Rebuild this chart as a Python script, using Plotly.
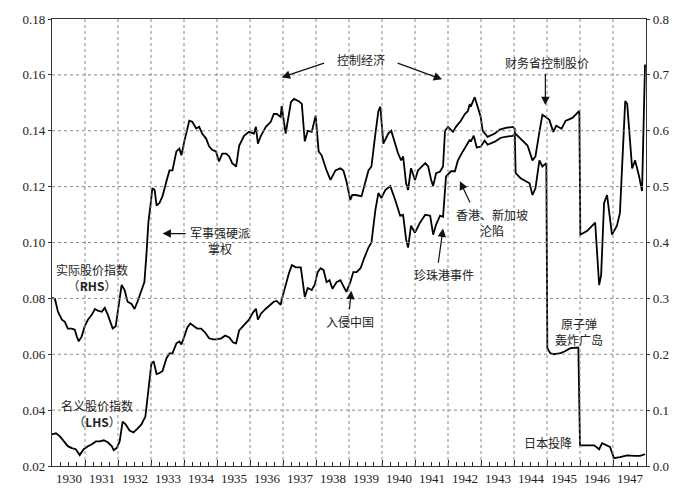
import plotly.graph_objects as go

# ---- data ----
year_labels = [str(y) for y in range(1930, 1948)]
year_bounds = list(range(1930, 1949))
left_ticks = [0.02, 0.04, 0.06, 0.08, 0.10, 0.12, 0.14, 0.16, 0.18]

# nominal stock price index (LHS)
nom_years = [1930.00, 1930.12, 1930.24, 1930.36, 1930.48, 1930.60, 1930.72, 1930.84, 1930.96, 1931.09,
             1931.21, 1931.33, 1931.45, 1931.57, 1931.69, 1931.81, 1931.87, 1931.96, 1932.05, 1932.14,
             1932.23, 1932.35, 1932.47, 1932.59, 1932.71, 1932.83, 1932.89, 1932.95, 1933.01, 1933.08,
             1933.17, 1933.26, 1933.35, 1933.47, 1933.56, 1933.65, 1933.77, 1933.86, 1933.92, 1934.01,
             1934.10, 1934.19, 1934.28, 1934.40, 1934.52, 1934.64, 1934.76, 1934.88, 1935.00, 1935.13,
             1935.25, 1935.37, 1935.49, 1935.58, 1935.67, 1935.82, 1935.97, 1936.09, 1936.18, 1936.24,
             1936.33, 1936.48, 1936.63, 1936.72, 1936.81, 1936.93, 1936.96, 1937.08, 1937.18, 1937.27,
             1937.39, 1937.54, 1937.66, 1937.75, 1937.87, 1937.96, 1938.05, 1938.14, 1938.23, 1938.32,
             1938.41, 1938.50, 1938.62, 1938.74, 1938.83, 1938.92, 1939.04, 1939.13, 1939.23, 1939.35,
             1939.47, 1939.59, 1939.68, 1939.80, 1939.89, 1939.98, 1940.10, 1940.25, 1940.40, 1940.55,
             1940.64, 1940.73, 1940.79, 1940.88, 1941.00, 1941.15, 1941.31, 1941.46, 1941.55, 1941.64,
             1941.76, 1941.85, 1941.94, 1942.09, 1942.21, 1942.30, 1942.45, 1942.54, 1942.66, 1942.69,
             1942.78, 1942.87, 1942.99, 1943.11, 1943.20, 1943.42, 1943.60, 1943.78, 1943.96, 1944.05,
             1944.20, 1944.41, 1944.56, 1944.65, 1944.77, 1944.86, 1944.95, 1945.07, 1945.19, 1945.28,
             1945.44, 1945.56, 1945.77, 1945.98, 1946.01, 1946.22, 1946.46, 1946.52, 1946.58, 1946.64,
             1946.73, 1946.82, 1946.97, 1947.12, 1947.21, 1947.37, 1947.43, 1947.58, 1947.67, 1947.79,
             1947.88, 1947.97]
nom_vals = [0.0313, 0.0317, 0.0306, 0.0288, 0.0271, 0.0264, 0.0260, 0.0239, 0.0260, 0.0271,
            0.0278, 0.0288, 0.0288, 0.0292, 0.0285, 0.0271, 0.0257, 0.0264, 0.0288, 0.0359,
            0.0349, 0.0327, 0.0320, 0.0334, 0.0349, 0.0377, 0.0441, 0.0511, 0.0565, 0.0575,
            0.0529, 0.0533, 0.0540, 0.0586, 0.0603, 0.0603, 0.0639, 0.0646, 0.0635, 0.0664,
            0.0696, 0.0710, 0.0703, 0.0692, 0.0692, 0.0678, 0.0657, 0.0653, 0.0653, 0.0657,
            0.0667, 0.0660, 0.0642, 0.0639, 0.0685, 0.0706, 0.0724, 0.0749, 0.0763, 0.0724,
            0.0745, 0.0763, 0.0777, 0.0788, 0.0791, 0.0777, 0.0795, 0.0848, 0.0890, 0.0919,
            0.0911, 0.0911, 0.0805, 0.0837, 0.0830, 0.0848, 0.0894, 0.0908, 0.0901, 0.0858,
            0.0865, 0.0834, 0.0858, 0.0865, 0.0844, 0.0823, 0.0858, 0.0894, 0.0894, 0.0908,
            0.0947, 0.0982, 0.1000, 0.1117, 0.1177, 0.1159, 0.1188, 0.1202, 0.1152, 0.1096,
            0.1099, 0.1011, 0.0982, 0.1060, 0.1035, 0.1071, 0.1099, 0.1096, 0.1028, 0.1064,
            0.1096, 0.1092, 0.1237, 0.1255, 0.1255, 0.1294, 0.1326, 0.1343, 0.1368, 0.1361,
            0.1382, 0.1340, 0.1343, 0.1365, 0.1350, 0.1361, 0.1375, 0.1379, 0.1382, 0.1389,
            0.1372, 0.1347, 0.1294, 0.1308, 0.1396, 0.1457, 0.1450, 0.1439, 0.1396, 0.1418,
            0.1407, 0.1435, 0.1446, 0.1471, 0.1028, 0.1042, 0.1071, 0.0975, 0.0848, 0.0883,
            0.1142, 0.1170, 0.1028, 0.1060, 0.1106, 0.1506, 0.1496, 0.1265, 0.1294, 0.1237,
            0.1184, 0.1637]

# real stock price index (RHS)
real_years = [1930.00, 1930.09, 1930.18, 1930.30, 1930.39, 1930.48, 1930.60, 1930.69, 1930.75, 1930.81,
              1930.90, 1930.99, 1931.09, 1931.21, 1931.30, 1931.39, 1931.51, 1931.60, 1931.69, 1931.81,
              1931.84, 1931.93, 1931.99, 1932.11, 1932.20, 1932.29, 1932.41, 1932.50, 1932.59, 1932.71,
              1932.80, 1932.86, 1932.92, 1933.01, 1933.04, 1933.11, 1933.17, 1933.26, 1933.35, 1933.47,
              1933.56, 1933.65, 1933.77, 1933.86, 1933.92, 1934.01, 1934.10, 1934.16, 1934.25, 1934.37,
              1934.46, 1934.55, 1934.67, 1934.76, 1934.85, 1934.97, 1935.06, 1935.16, 1935.28, 1935.37,
              1935.46, 1935.58, 1935.67, 1935.82, 1935.97, 1936.12, 1936.18, 1936.24, 1936.33, 1936.48,
              1936.63, 1936.72, 1936.81, 1936.93, 1936.96, 1937.08, 1937.24, 1937.33, 1937.48, 1937.57,
              1937.66, 1937.75, 1937.87, 1937.99, 1938.08, 1938.17, 1938.32, 1938.44, 1938.59, 1938.74,
              1938.83, 1938.92, 1939.04, 1939.10, 1939.20, 1939.38, 1939.59, 1939.68, 1939.80, 1939.89,
              1939.95, 1940.04, 1940.19, 1940.28, 1940.49, 1940.58, 1940.64, 1940.73, 1940.79, 1940.88,
              1941.00, 1941.09, 1941.31, 1941.40, 1941.49, 1941.55, 1941.64, 1941.76, 1941.85, 1941.91,
              1942.00, 1942.15, 1942.24, 1942.39, 1942.51, 1942.60, 1942.66, 1942.69, 1942.81, 1942.90,
              1942.99, 1943.05, 1943.20, 1943.42, 1943.57, 1943.75, 1943.96, 1944.02, 1944.05, 1944.20,
              1944.47, 1944.56, 1944.65, 1944.77, 1944.86, 1944.98, 1945.01, 1945.10, 1945.22, 1945.41,
              1945.53, 1945.71, 1945.95, 1946.00, 1946.22, 1946.43, 1946.58, 1946.67, 1946.91, 1947.03,
              1947.21, 1947.43, 1947.64, 1947.82, 1947.97]
real_vals = [0.301, 0.299, 0.276, 0.262, 0.258, 0.246, 0.246, 0.244, 0.232, 0.223,
             0.232, 0.250, 0.262, 0.271, 0.281, 0.278, 0.276, 0.283, 0.271, 0.253,
             0.246, 0.250, 0.276, 0.324, 0.315, 0.294, 0.290, 0.281, 0.294, 0.312,
             0.329, 0.377, 0.435, 0.480, 0.497, 0.494, 0.466, 0.471, 0.483, 0.510,
             0.529, 0.529, 0.563, 0.568, 0.556, 0.581, 0.607, 0.618, 0.616, 0.604,
             0.607, 0.595, 0.586, 0.572, 0.566, 0.563, 0.545, 0.559, 0.559, 0.554,
             0.542, 0.536, 0.573, 0.591, 0.598, 0.595, 0.607, 0.577, 0.591, 0.607,
             0.616, 0.630, 0.630, 0.625, 0.644, 0.595, 0.651, 0.657, 0.653, 0.648,
             0.581, 0.600, 0.598, 0.627, 0.563, 0.556, 0.529, 0.512, 0.529, 0.533,
             0.529, 0.510, 0.476, 0.485, 0.485, 0.483, 0.529, 0.536, 0.595, 0.635,
             0.643, 0.577, 0.595, 0.600, 0.559, 0.547, 0.554, 0.506, 0.494, 0.533,
             0.512, 0.529, 0.542, 0.536, 0.512, 0.501, 0.524, 0.527, 0.536, 0.600,
             0.607, 0.598, 0.607, 0.618, 0.630, 0.635, 0.648, 0.643, 0.660, 0.643,
             0.625, 0.600, 0.589, 0.595, 0.602, 0.605, 0.607, 0.604, 0.524, 0.515,
             0.506, 0.485, 0.497, 0.547, 0.536, 0.542, 0.211, 0.202, 0.200, 0.202,
             0.205, 0.211, 0.212, 0.037, 0.037, 0.037, 0.030, 0.041, 0.034, 0.014,
             0.016, 0.019, 0.018, 0.018, 0.021]

TXT_FONT = dict(family="Noto Sans CJK SC", size=12, color="#222")
NUM_FONT = dict(family="'Liberation Serif', 'DejaVu Serif', serif", size=13, color="#222")
GRID = "#8a8a8a"

fig = go.Figure()
fig.add_trace(go.Scatter(x=nom_years, y=nom_vals, mode="lines", yaxis="y",
                         line=dict(color="black", width=1.8), showlegend=False,
                         name="名义股价指数"))
fig.add_trace(go.Scatter(x=real_years, y=real_vals, mode="lines", yaxis="y2",
                         line=dict(color="black", width=1.8), showlegend=False,
                         name="实际股价指数"))

fig.update_layout(
    width=681, height=500,
    margin=dict(l=52, r=32, t=14, b=34),
    plot_bgcolor="white", paper_bgcolor="white",
    xaxis=dict(range=[1930, 1948], tickmode="array",
               tickvals=year_bounds, ticktext=year_labels + [""],
               ticklabelshift=17, ticks="inside", ticklen=6, tickcolor="#222",
               showline=True, linecolor="#333", linewidth=1.2, mirror=True,
               showgrid=False, zeroline=False, tickfont=NUM_FONT,
               minor=dict(tickmode="linear", tick0=1930, dtick=0.25, ticks="inside",
                          ticklen=4, tickcolor="#222", showgrid=False)),
    yaxis=dict(range=[0.02, 0.18], tickmode="array", tickvals=left_ticks,
               tickformat=".2f", ticks="outside", ticklen=3, tickcolor="#333",
               showline=True, linecolor="#333", linewidth=1.2,
               showgrid=False, zeroline=False, tickfont=NUM_FONT),
    yaxis2=dict(range=[0, 0.8], tickmode="linear", tick0=0, dtick=0.1,
                tickformat=".1f", overlaying="y", side="right",
                ticks="outside", ticklen=3, tickcolor="#333",
                showline=True, linecolor="#333", linewidth=1.2,
                showgrid=False, zeroline=False, tickfont=NUM_FONT),
)

# ---- dotted grid, at the x and left-y tick values ----
for yr in year_bounds[1:-1]:
    fig.add_shape(type="line", xref="x", yref="paper", x0=yr, x1=yr, y0=0, y1=1,
                  line=dict(color=GRID, width=1, dash="dot"), layer="above")
for v in left_ticks[1:-1]:
    fig.add_shape(type="line", xref="paper", yref="y", x0=0, x1=1, y0=v, y1=v,
                  line=dict(color=GRID, width=1, dash="dot"), layer="above")

# ---- text labels ----
labels = [
    ("控制经济", 1939.35, 0.1655),
    ("财务省控制股价", 1945.01, 0.1644),
    ("军事强硬派<br>掌权", 1935.09, 0.1007),
    ("实际股价指数<br>（<b>RHS</b>）", 1931.21, 0.0873),
    ("名义股价指数<br>（<b>LHS</b>）", 1931.36, 0.0388),
    ("入侵中国", 1939.04, 0.0717),
    ("珍珠港事件", 1941.88, 0.0887),
    ("香港、新加坡<br>沦陷", 1943.33, 0.1071),
    ("原子弹<br>轰炸广岛", 1945.98, 0.0681),
    ("日本投降", 1945.04, 0.0285),
]
for t, x, y in labels:
    fig.add_annotation(x=x, y=y, xref="x", yref="y", text=t, showarrow=False,
                       font=TXT_FONT, align="center")

# ---- arrows: (head_x, head_y, tail_x, tail_y) ----
arrows = [
    (1936.96, 0.1591, 1938.29, 0.1644),
    (1941.82, 0.1584, 1940.43, 0.1644),
    (1944.95, 0.1492, 1944.95, 0.1609),
    (1933.35, 0.1032, 1934.10, 0.1032),
    (1939.07, 0.0827, 1939.01, 0.0756),
    (1941.85, 0.1050, 1941.70, 0.0922),
    (1942.36, 0.1219, 1942.69, 0.1138),
]
for hx, hy, tx, ty in arrows:
    fig.add_annotation(x=hx, y=hy, ax=tx, ay=ty, xref="x", yref="y",
                       axref="x", ayref="y", text="", showarrow=True,
                       arrowhead=2, arrowsize=1.4, arrowwidth=1.2,
                       arrowcolor="#111", standoff=0)

fig.write_html("out.html")
